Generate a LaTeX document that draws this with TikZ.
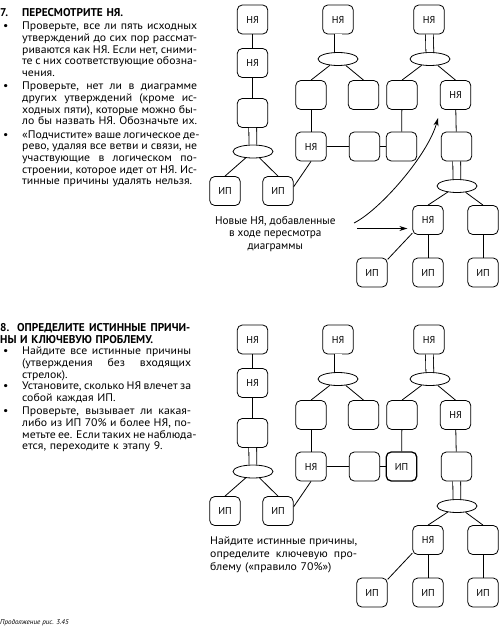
\documentclass[tikz,border=0pt]{standalone}
\usepackage{fontspec}
\setmainfont{PT Sans}
\newfontfamily\bodyf{PT Sans}[FakeStretch=1.07]
\usetikzlibrary{shapes.geometric,arrows.meta}
\newcommand\jl[2][175pt]{{\spaceskip=0pt\xspaceskip=0pt\makebox[#1][s]{#2}}}
\newcommand\bul{\makebox[22pt][l]{\hspace{3pt}•}}
\newcommand\ind{\hspace*{22pt}}
\newcommand\titlef{\rmfamily\bfseries\fontsize{11.3}{11.67}\selectfont}
\newcommand\treediag[2]{%
  \node[box] (L1) at (252.5,19.5) {НЯ};
  \node[box] (L2) at (252.5,63) {НЯ};
  \node[box] (L3) at (252.5,113) {};
  \node[ell] (Le) at (253,151.5) {};
  \node[box] (Lip1) at (225,191) {ИП};
  \node[box] (Lip2) at (278,191) {ИП};
  \node[box] (M1) at (338,19.5) {НЯ};
  \node[ell] (Me) at (338,59) {};
  \node[box] (M2) at (311,95) {};
  \node[box] (M3) at (363.5,95) {};
  \node[box] (M4) at (311,146.5) {НЯ};
  \node[box] (M5) at (364.5,146.5) {};
  \node[box,#2] (M6) at (401.5,146.5) {#1};
  \node[box] (R1) at (429,19.5) {НЯ};
  \node[ell] (Re) at (430,59) {};
  \node[box] (R2) at (402,95) {};
  \node[box] (R3) at (455.5,95) {НЯ};
  \node[box] (R4) at (456.5,146.5) {};
  \node[ell] (Re2) at (457,186) {};
  \node[box] (R5) at (428,220) {НЯ};
  \node[box] (R6) at (483,220) {};
  \node[box] (Rip1) at (372,272.5) {ИП};
  \node[box] (Rip2) at (428,272.5) {ИП};
  \node[box] (Rip3) at (483,272.5) {ИП};
  \draw[ln] (L1) -- (L2);
  \draw[ln] (L2) -- (L3);
  \draw[dbl] (L3) -- (Le);
  \draw[ln] (Le) -- (Lip1.north);
  \draw[ln] (Le) -- (Lip2.north);
  \draw[ln] (Lip2.15) -- (M4.south);
  \draw[dbl] (M1) -- (Me);
  \draw[ln] (Me) -- (M2.north);
  \draw[ln] (Me) -- (M3.north);
  \draw[ln] (M2) -- (M4);
  \draw[thk] (M4) -- (M5);
  \draw[thk] (M5) -- (M6);
  \draw[dbl] (R1) -- (Re);
  \draw[ln] (Re) -- (R2.north);
  \draw[ln] (Re) -- (R3.north);
  \draw[ln] (R2) -- (M6);
  \draw[ln] (R3) -- (R4);
  \draw[dbl] (R4) -- (Re2);
  \draw[ln] (Re2) -- (R5.north);
  \draw[ln] (Re2) -- (R6.north);
  \draw[ln] (R5.-140) -- (Rip1.40);
  \draw[ln] (R5) -- (Rip2);
  \draw[ln] (R6) -- (Rip3);
}
\begin{document}
\begin{tikzpicture}[x=1pt,y=-1pt,
  box/.style={draw, rounded corners=5pt, minimum width=30.5pt, minimum height=29pt,
    line width=0.8pt, inner sep=0pt, font=\fontsize{10}{12}\selectfont},
  ell/.style={draw, ellipse, minimum width=40pt, minimum height=13pt, inner sep=0pt, line width=0.8pt},
  ln/.style={line width=0.8pt},
  dbl/.style={line width=0.8pt, double, double distance=7pt},
  thk/.style={line width=1.8pt},
  hot/.style={line width=1.3pt},
  arr/.style={line width=0.8pt, -{Stealth[length=8pt,width=5pt]}},
  txt/.style={inner sep=0pt, align=left, text width=200pt, font=\bodyf\fontsize{11}{11.67}\selectfont}]
\useasboundingbox (0,0) rectangle (500,639);

% ---------- step 7 text
\node[txt, anchor=north west] (t7) at (0,8.3) {%
\makebox[22pt][l]{\titlef 7.}{\titlef ПЕРЕСМОТРИТЕ НЯ.}\\[1.6pt]
\bul\jl{Проверьте, все ли пять исходных}\\
\ind\jl{утверждений до сих пор рассмат-}\\
\ind\jl{риваются как НЯ. Если нет, сними-}\\
\ind\jl{те с них соответствующие обозна-}\\
\ind чения.\\[1.6pt]
\bul\jl{Проверьте, нет ли в диаграмме}\\
\ind\jl{других утверждений (кроме ис-}\\
\ind\jl{ходных пяти), которые можно бы-}\\
\ind\jl{ло бы назвать НЯ. Обозначьте их.}\\[1.6pt]
\bul\jl{«Подчистите» ваше логическое де-}\\
\ind\jl{рево, удаляя все ветви и связи, не}\\
\ind\jl{участвующие в логическом по-}\\
\ind\jl{строении, которое идет от НЯ. Ис-}\\
\ind тинные причины удалять нельзя.};

% ---------- step 8 text
\node[txt, anchor=north west] (t8) at (0,323.3) {%
\jl[190pt]{\titlef 8. ОПРЕДЕЛИТЕ ИСТИННЫЕ ПРИЧИ-}\\
{\titlef НЫ И КЛЮЧЕВУЮ ПРОБЛЕМУ.}\\
\bul\jl[169pt]{Найдите все истинные причины}\\
\ind\jl[169pt]{(утверждения без входящих}\\
\ind стрелок).\\
\bul\jl[169pt]{Установите, сколько НЯ влечет за}\\
\ind собой каждая ИП.\\[1.6pt]
\bul\jl[169pt]{Проверьте, вызывает ли какая-}\\
\ind\jl[169pt]{либо из ИП 70\% и более НЯ, по-}\\
\ind\jl[169pt]{метьте ее. Если таких не наблюда-}\\
\ind ется, переходите к этапу 9.};

% ---------- top diagram
\begin{scope}[name prefix=t-]
  \treediag{}{}
  \node[align=center, inner sep=0pt, font=\fontsize{11.2}{12.5}\selectfont] (note1) at (275.3,234)
    {Новые НЯ, добавленные\\в ходе пересмотра\\диаграммы};
  \coordinate (c0) at (354,223);
  \coordinate (c1) at (438,118);
  \coordinate (s0) at (357,228.5);
  \draw[arr] (c0) .. controls (380,210) and (428,155) .. (c1);
  \draw[arr, shorten >=5pt] (s0) -- (s0 -| R5.west);
\end{scope}

% ---------- bottom diagram
\begin{scope}[yshift=-320pt, name prefix=b-]
  \treediag{ИП}{hot}
  \node[inner sep=0pt, anchor=north west, align=left, text width=150pt,
        font=\bodyf\fontsize{11}{12.8}\selectfont] (note2) at (210,217)
    {\jl[147pt]{Найдите истинные причины,}\\
     \jl[147pt]{определите ключевую про-}\\
     блему («правило 70\%»)};
\end{scope}

\node[anchor=west, inner sep=0pt, font=\fontsize{7}{8}\selectfont\itshape] (cap) at (0,623) {Продолжение рис. 3.45};
\end{tikzpicture}
\end{document}
